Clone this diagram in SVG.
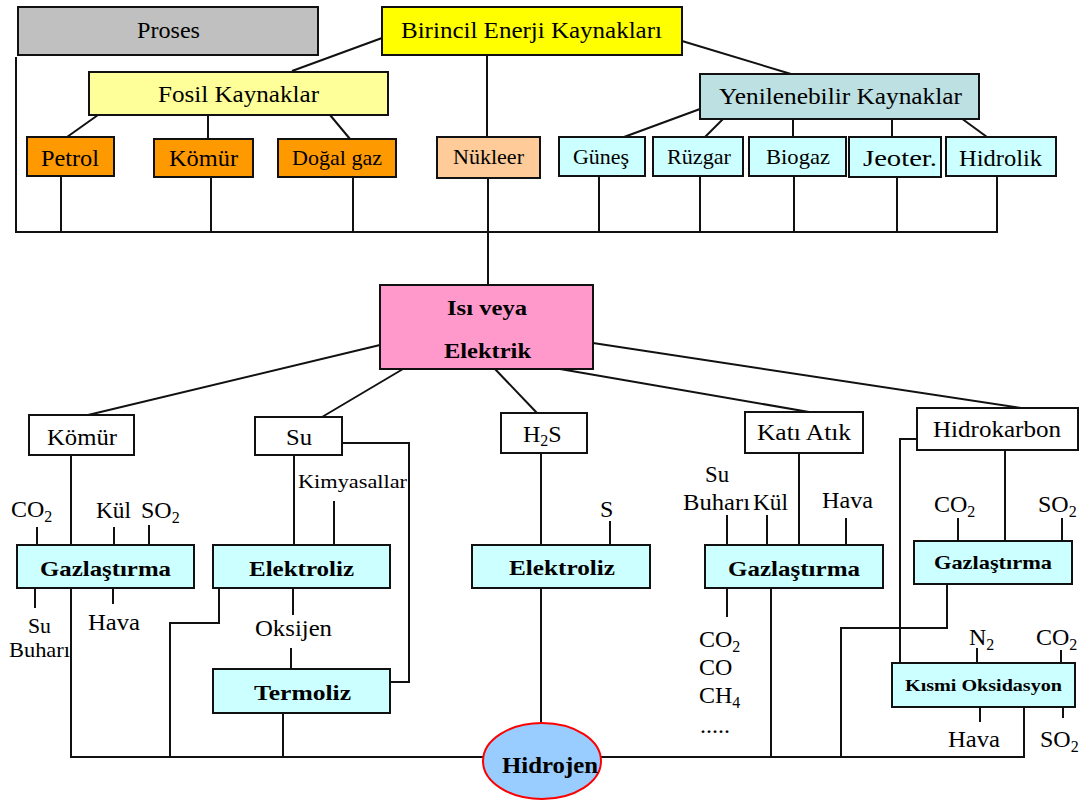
<svg xmlns="http://www.w3.org/2000/svg" width="1086" height="801" viewBox="0 0 1086 801">
<style>
.bx{stroke:#111;stroke-width:2}
.ln{fill:none;stroke:#111;stroke-width:2}
text{font-family:"Liberation Serif","Times New Roman",serif;fill:#000;font-size:24px}
.b{font-weight:bold}
.s20{font-size:22px}
.s18{font-size:19px}
.s16{font-size:17px}
.sub{font-size:16px}
.gray{fill:#c0c0c0}.yel{fill:#ffff00}.lyel{fill:#ffff99}.org{fill:#ff9900}.peach{fill:#ffcc99}
.teal{fill:#bde0e2}.cyan{fill:#ccffff}.pink{fill:#ff99cc}.wht{fill:#ffffff}
</style>
<rect width="1086" height="801" fill="#ffffff"/>
<g id="connectors" class="ln">
<path d="M16,57 V232 H998"/>
<path d="M382,38 L292,71"/>
<path d="M682,41 L791,74"/>
<path d="M487,55 V137"/>
<path d="M98,115 L67,137"/>
<path d="M208,115 V139"/>
<path d="M330,115 L350,139"/>
<path d="M61,176 V232"/>
<path d="M211,177 V232"/>
<path d="M353,177 V232"/>
<path d="M488,178 V285"/>
<path d="M700,109 L624,137"/>
<path d="M725,117 L705,137"/>
<path d="M793,119 V137"/>
<path d="M892,119 V137"/>
<path d="M961,118 L987,137"/>
<path d="M599,176 V232"/>
<path d="M700,176 V232"/>
<path d="M794,176 V232"/>
<path d="M897,177 V232"/>
<path d="M997,176 V232"/>
<path d="M380,345 L88,415"/>
<path d="M403,369 L322,417"/>
<path d="M495,369 L537,413"/>
<path d="M560,369 L809,412"/>
<path d="M593,343 L1021,408"/>
<path d="M71,455 V757 H1025"/>
<path d="M37,527 V545"/>
<path d="M114,527 V545"/>
<path d="M149,525 V545"/>
<path d="M35,588 V608"/>
<path d="M113,588 V604"/>
<path d="M294,455 V545"/>
<path d="M334,501 V545"/>
<path d="M342,443 H409 V682 H390"/>
<path d="M293,588 V615"/>
<path d="M291,648 V669"/>
<path d="M283,713 V757"/>
<path d="M219,588 V623 H170 V757"/>
<path d="M541,453 V722"/>
<path d="M610,521 V545"/>
<path d="M799,453 V545"/>
<path d="M727,515 V545"/>
<path d="M767,515 V545"/>
<path d="M846,518 V545"/>
<path d="M727,588 V617"/>
<path d="M771,588 V757"/>
<path d="M917,439 H900 V663"/>
<path d="M1005,450 V541"/>
<path d="M958,518 V541"/>
<path d="M1062,518 V541"/>
<path d="M947,584 V628 H841 V757"/>
<path d="M977,648 V663"/>
<path d="M1061,650 V663"/>
<path d="M980,707 V722"/>
<path d="M1063,707 V718"/>
<path d="M1024,707 V757"/>
</g>
<g id="proses"><rect class="bx gray" x="18" y="7" width="300" height="48"/><text x="137" y="38" textLength="63" lengthAdjust="spacingAndGlyphs">Proses</text></g>
<g id="birincil"><rect class="bx yel" x="382" y="7" width="300" height="48"/><text x="401" y="38" textLength="261" lengthAdjust="spacingAndGlyphs">Birincil Enerji Kaynakları</text></g>
<g id="fosil"><rect class="bx lyel" x="89" y="72" width="299" height="43"/><text x="158" y="102" textLength="161" lengthAdjust="spacingAndGlyphs">Fosil Kaynaklar</text></g>
<g id="petrol"><rect class="bx org" x="27" y="137" width="87" height="39"/><text x="41" y="166" textLength="58" lengthAdjust="spacingAndGlyphs">Petrol</text></g>
<g id="komur1"><rect class="bx org" x="154" y="139" width="99" height="38"/><text x="169" y="166" textLength="69" lengthAdjust="spacingAndGlyphs">Kömür</text></g>
<g id="dogalgaz"><rect class="bx org" x="278" y="139" width="118" height="38"/><text class="s20" x="292" y="165" textLength="90" lengthAdjust="spacingAndGlyphs">Doğal gaz</text></g>
<g id="nukleer"><rect class="bx peach" x="437" y="137" width="103" height="41"/><text class="s20" x="453" y="164" textLength="71" lengthAdjust="spacingAndGlyphs">Nükleer</text></g>
<g id="yenilenebilir"><rect class="bx teal" x="700" y="74" width="279" height="45"/><text x="719" y="104" textLength="243" lengthAdjust="spacingAndGlyphs">Yenilenebilir Kaynaklar</text></g>
<g id="gunes"><rect class="bx cyan" x="559" y="137" width="86" height="39"/><text class="s20" x="573" y="164" textLength="56" lengthAdjust="spacingAndGlyphs">Güneş</text></g>
<g id="ruzgar"><rect class="bx cyan" x="653" y="137" width="90" height="39"/><text class="s20" x="667" y="164" textLength="64" lengthAdjust="spacingAndGlyphs">Rüzgar</text></g>
<g id="biogaz"><rect class="bx cyan" x="749" y="137" width="97" height="39"/><text class="s20" x="766" y="164" textLength="64" lengthAdjust="spacingAndGlyphs">Biogaz</text></g>
<g id="jeoter"><rect class="bx cyan" x="849" y="137" width="92" height="40"/><text x="863" y="166" textLength="74" lengthAdjust="spacingAndGlyphs">Jeoter.</text></g>
<g id="hidrolik"><rect class="bx cyan" x="946" y="137" width="110" height="39"/><text x="959" y="166" textLength="83" lengthAdjust="spacingAndGlyphs">Hidrolik</text></g>
<g id="isi"><rect class="bx pink" x="380" y="285" width="213" height="84"/><text class="b s20" x="447" y="315" textLength="80" lengthAdjust="spacingAndGlyphs">Isı veya</text><text class="b s20" x="444" y="358" textLength="87" lengthAdjust="spacingAndGlyphs">Elektrik</text></g>
<g id="komur2"><rect class="bx wht" x="29" y="415" width="105" height="40"/><text x="47" y="445" textLength="70" lengthAdjust="spacingAndGlyphs">Kömür</text></g>
<g id="su"><rect class="bx wht" x="255" y="417" width="87" height="38"/><text x="286" y="445" textLength="26" lengthAdjust="spacingAndGlyphs">Su</text></g>
<g id="h2s"><rect class="bx wht" x="501" y="413" width="86" height="40"/><text x="523" y="442">H<tspan class="sub" dy="4">2</tspan><tspan dy="-4">S</tspan></text></g>
<g id="katiatik"><rect class="bx wht" x="745" y="412" width="118" height="41"/><text x="757" y="440" textLength="94" lengthAdjust="spacingAndGlyphs">Katı Atık</text></g>
<g id="hidrokarbon"><rect class="bx wht" x="917" y="408" width="161" height="42"/><text x="933" y="437" textLength="128" lengthAdjust="spacingAndGlyphs">Hidrokarbon</text></g>
<g id="labels-komur">
<text x="11" y="517">CO<tspan class="sub" dy="5">2</tspan></text>
<text x="96" y="518" textLength="35" lengthAdjust="spacingAndGlyphs">Kül</text>
<text x="141" y="518">SO<tspan class="sub" dy="5">2</tspan></text>
<text class="s20" x="28" y="633" textLength="23" lengthAdjust="spacingAndGlyphs">Su</text>
<text class="s20" x="9" y="657" textLength="61" lengthAdjust="spacingAndGlyphs">Buharı</text>
<text x="88" y="630" textLength="52" lengthAdjust="spacingAndGlyphs">Hava</text>
</g>
<g id="gaz1"><rect class="bx cyan" x="17" y="545" width="177" height="43"/><text class="b s20" x="40" y="576" textLength="131" lengthAdjust="spacingAndGlyphs">Gazlaştırma</text></g>
<g id="labels-su">
<text class="s18" x="298" y="488" textLength="109" lengthAdjust="spacingAndGlyphs">Kimyasallar</text>
<text x="255" y="636" textLength="77" lengthAdjust="spacingAndGlyphs">Oksijen</text>
</g>
<g id="elektroliz1"><rect class="bx cyan" x="213" y="545" width="177" height="43"/><text class="b s20" x="249" y="576" textLength="105" lengthAdjust="spacingAndGlyphs">Elektroliz</text></g>
<g id="termoliz"><rect class="bx cyan" x="213" y="669" width="177" height="44"/><text class="b s20" x="254" y="700" textLength="97" lengthAdjust="spacingAndGlyphs">Termoliz</text></g>
<g id="labels-h2s"><text x="600" y="517">S</text></g>
<g id="elektroliz2"><rect class="bx cyan" x="472" y="545" width="178" height="43"/><text class="b s20" x="509" y="575" textLength="106" lengthAdjust="spacingAndGlyphs">Elektroliz</text></g>
<g id="labels-kati">
<text x="705" y="482" textLength="24" lengthAdjust="spacingAndGlyphs">Su</text>
<text x="683" y="510" textLength="67" lengthAdjust="spacingAndGlyphs">Buharı</text>
<text x="753" y="510" textLength="35" lengthAdjust="spacingAndGlyphs">Kül</text>
<text x="822" y="508" textLength="51" lengthAdjust="spacingAndGlyphs">Hava</text>
<text x="699" y="647">CO<tspan class="sub" dy="5">2</tspan></text>
<text x="699" y="675">CO</text>
<text x="699" y="703">CH<tspan class="sub" dy="5">4</tspan></text>
<text x="700" y="733" textLength="30" lengthAdjust="spacingAndGlyphs">.....</text>
</g>
<g id="gaz2"><rect class="bx cyan" x="705" y="545" width="178" height="43"/><text class="b s20" x="728" y="576" textLength="132" lengthAdjust="spacingAndGlyphs">Gazlaştırma</text></g>
<g id="labels-hidrokarbon">
<text x="934" y="512">CO<tspan class="sub" dy="5">2</tspan></text>
<text x="1038" y="512">SO<tspan class="sub" dy="5">2</tspan></text>
<text x="969" y="645">N<tspan class="sub" dy="5">2</tspan></text>
<text x="1036" y="645">CO<tspan class="sub" dy="5">2</tspan></text>
<text x="948" y="747" textLength="52" lengthAdjust="spacingAndGlyphs">Hava</text>
<text x="1040" y="747">SO<tspan class="sub" dy="5">2</tspan></text>
</g>
<g id="gaz3"><rect class="bx cyan" x="914" y="541" width="158" height="43"/><text class="b s18" x="934" y="569" textLength="118" lengthAdjust="spacingAndGlyphs">Gazlaştırma</text></g>
<g id="kismi"><rect class="bx cyan" x="892" y="663" width="183" height="44"/><text class="b s16" x="905" y="691" textLength="157" lengthAdjust="spacingAndGlyphs">Kısmi Oksidasyon</text></g>
<g id="hidrojen"><ellipse cx="542" cy="761" rx="59" ry="38" fill="#99ccff" stroke="#ff0000" stroke-width="2"/><text class="b" x="502" y="773" textLength="96" lengthAdjust="spacingAndGlyphs">Hidrojen</text></g>
</svg>
